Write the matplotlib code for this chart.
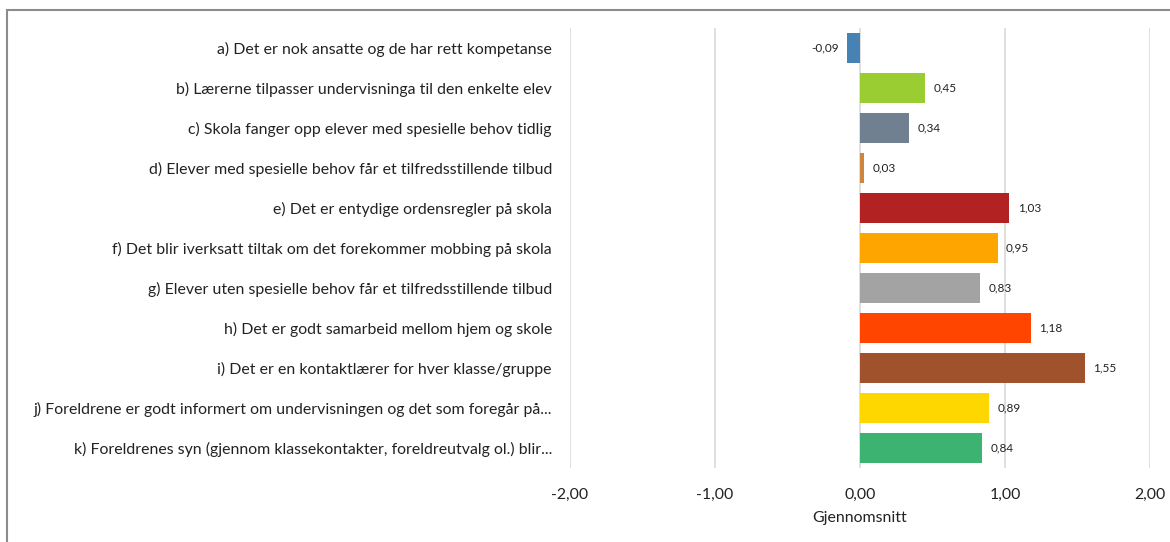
import numpy as np
import matplotlib.pyplot as plt
from matplotlib.patches import Rectangle

# -------------------------------------------

labels = [
    'a) Det er nok ansatte og de har rett kompetanse',
    'b) Lærerne tilpasser undervisninga til den enkelte elev',
    'c) Skola fanger opp elever med spesielle behov tidlig',
    'd) Elever med spesielle behov får et tilfredsstillende tilbud',
    'e) Det er entydige ordensregler på skola',
    'f) Det blir iverksatt tiltak om det forekommer mobbing på skola',
    'g) Elever uten spesielle behov får et tilfredsstillende tilbud',
    'h) Det er godt samarbeid mellom hjem og skole',
    'i) Det er en kontaktlærer for hver klasse/gruppe',
    'j) Foreldrene er godt informert om undervisningen og det som foregår på...',
    'k) Foreldrenes syn (gjennom klassekontakter, foreldreutvalg ol.) blir...',
]
values = [-0.09, 0.45, 0.34, 0.03, 1.03, 0.95, 0.83, 1.18, 1.55, 0.89, 0.84]
colors = ['#4682B4', '#9ACD32', '#708090', '#CD853F', '#B22222', '#FFA500',
          '#A3A3A3', '#FF4500', '#A0522D', '#FFD700', '#3CB371']
xticks = [-2, -1, 0, 1, 2]

# -------------------------------------------

plt.rcParams['font.family'] = ['Lato', 'DejaVu Sans']

fig = plt.figure(figsize=(11.7, 5.42), dpi=100)
ax = fig.add_axes([570/1170, 1-468/542, 580/1170, 440/542])

y = np.arange(len(labels))
ax.barh(y, values, height=0.74, color=colors, zorder=3)
ax.set_ylim(len(labels)-0.5, -0.5)
ax.set_xlim(-2, 2)

ax.set_yticks(y)
ax.set_yticklabels(labels, fontsize=11.4, color='#222222')
ax.set_xticks(xticks)
ax.set_xticklabels([('%.2f' % t).replace('.', ',') for t in xticks],
                   fontsize=11.4, color='#222222')
ax.tick_params(axis='y', length=0, pad=13)
ax.tick_params(axis='x', length=0, pad=14)
ax.set_xlabel('Gjennomsnitt', fontsize=11.4, color='#222222', labelpad=7)

ax.grid(axis='x', color='#D9D9D9', lw=1.2, zorder=0)
for s in ax.spines.values():
    s.set_visible(False)

for yi, v in zip(y, values):
    txt = ('%.2f' % v).replace('.', ',')
    if v < 0:
        ax.annotate(txt, (v, yi), xytext=(-6, 0), textcoords='offset points',
                    ha='right', va='center', fontsize=8.5, color='#222222')
    else:
        ax.annotate(txt, (v, yi), xytext=(6, 0), textcoords='offset points',
                    ha='left', va='center', fontsize=8.5, color='#222222')

# frame round the chart (only top and left visible)
fig.patches.append(Rectangle((7/1170, -0.05), 1.1, 1-10/542+0.05,
                             transform=fig.transFigure, fill=False,
                             edgecolor='#8C8C8C', lw=1.5))

fig.savefig('out.png', dpi=100)
